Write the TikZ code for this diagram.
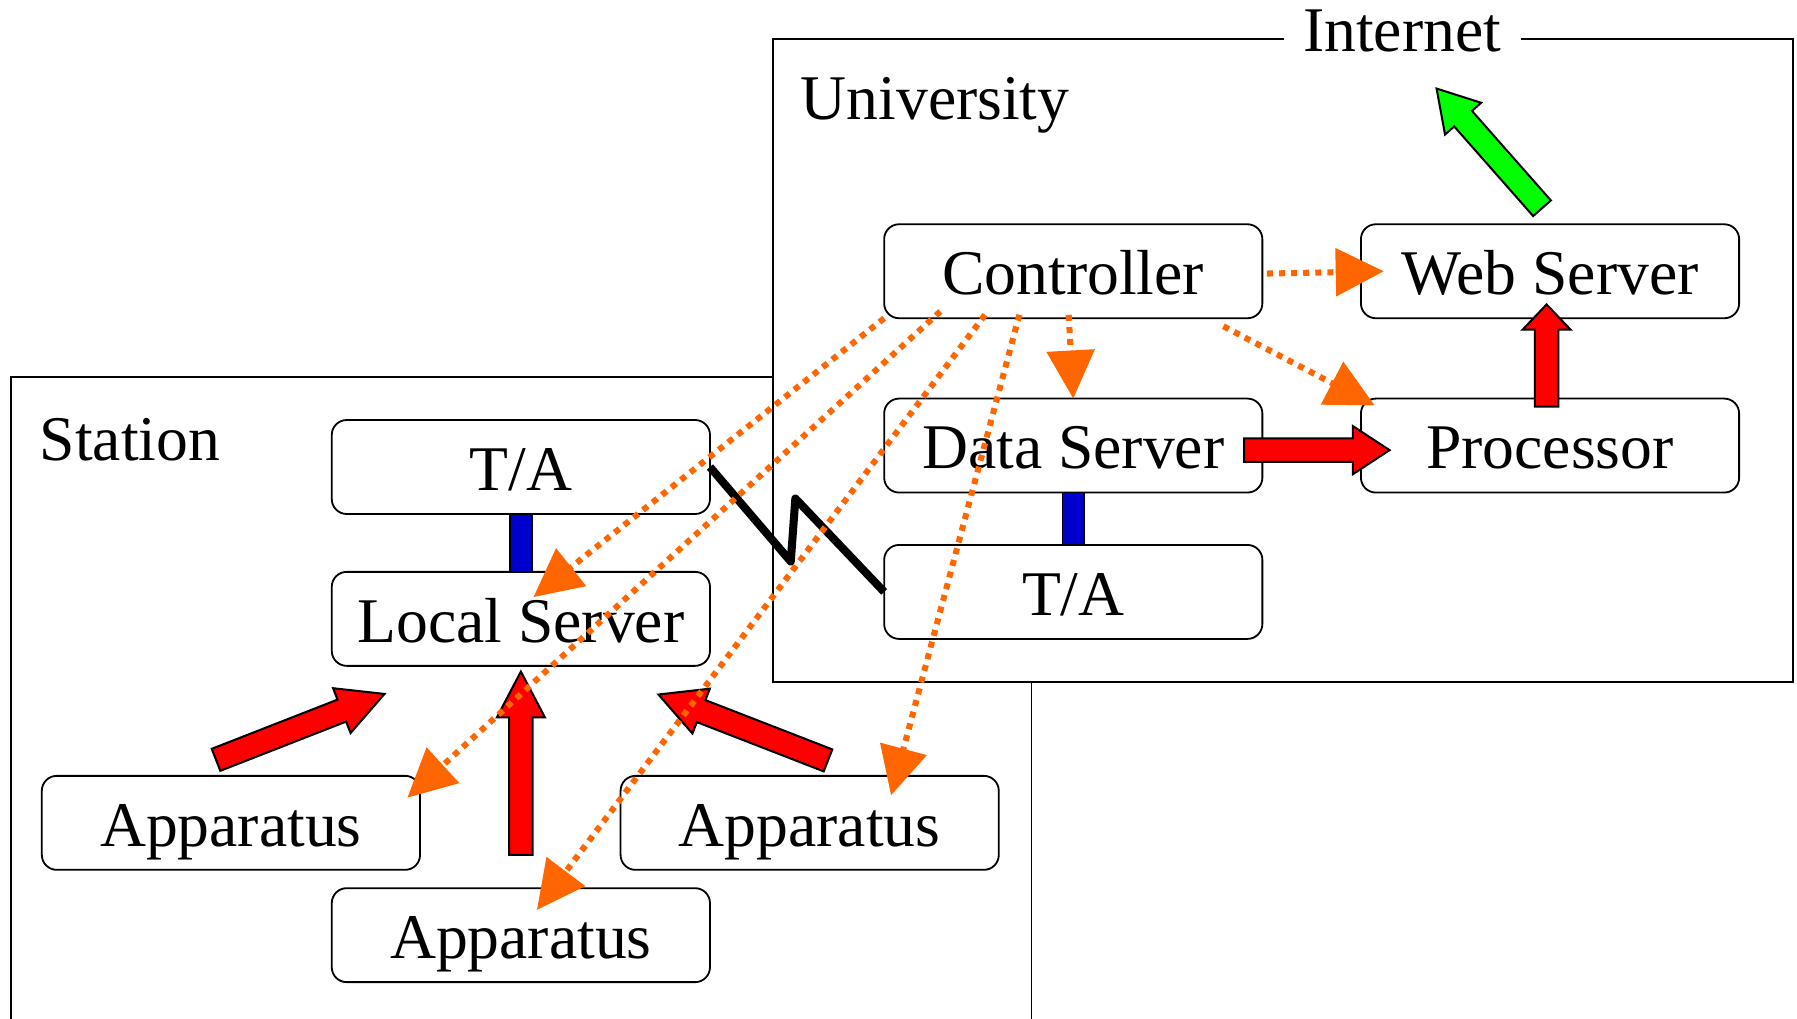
\documentclass[tikz,border=0pt]{standalone}
\usepackage{fontspec}
\setmainfont{Liberation Serif}
\usetikzlibrary{arrows.meta,calc}

\definecolor{ctlorange}{RGB}{255,102,0}
\definecolor{linkblue}{RGB}{0,0,204}
\definecolor{flowred}{RGB}{255,0,0}
\definecolor{netgreen}{RGB}{0,255,0}

% half widths of the shaft and of the head of a block arrow
\newcommand\fashaft{1.03mm}
\newcommand\fahead{2.1mm}
% block arrow: #1 fill colour, #2 head length, #3 start, #4 tip
\newcommand\fatarrow[4]{%
  \coordinate (fa-s) at #3;
  \coordinate (fa-e) at #4;
  \coordinate (fa-b) at ($(fa-e)!#2!(fa-s)$);
  \draw[fatline, fill=#1]
    ($(fa-s)!\fashaft!90:(fa-e)$) -- ($(fa-b)!\fashaft!90:(fa-e)$)
    -- ($(fa-b)!\fahead!90:(fa-e)$) -- (fa-e)
    -- ($(fa-b)!\fahead!-90:(fa-e)$) -- ($(fa-b)!\fashaft!-90:(fa-e)$)
    -- ($(fa-s)!\fashaft!-90:(fa-e)$) -- cycle;
}

\tikzset{
  txt/.style={font=\fontsize{15.8}{19}\selectfont},
  unit/.style={txt, draw=black, line width=0.45pt, fill=white,
    rounded corners=1.3mm, minimum width=33mm, minimum height=8.2mm,
    inner sep=0pt, outer sep=0pt, text height=11.5pt, text depth=0pt},
  frame/.style={draw=black, line width=0.45pt},
  fatline/.style={draw=black, line width=0.5pt, line join=miter},
  link/.style={draw=black, line width=0.4pt, fill=linkblue},
  radio/.style={draw=black, line width=2pt, line join=round},
  ctl/.style={draw=ctlorange, line width=1.5pt, dash pattern=on 1.5pt off 1.5pt,
    -{Triangle[length=4.2mm, width=4.1mm, fill=ctlorange]}},
}

\begin{document}
\begin{tikzpicture}[x=0.1mm, y=-0.1mm]
  \useasboundingbox (0,0) rectangle (1568,889);

  % site frames
  \draw[frame] (9.6,889) -- (9.6,329.3) -- (900,329.3) -- (900,889);
  \draw[frame, fill=white] (674.7,33.7) rectangle (1564.8,594.8);
  \node[txt, fill=white, inner xsep=1.7mm, inner ysep=0.5mm, anchor=base] (inet) at (1223.5,45) {Internet};
  \node[txt, anchor=base west, inner sep=0pt] (univ) at (698,104) {University};
  \node[txt, anchor=base west, inner sep=0pt] (stat) at (34,401.5) {Station};

  % university units
  \node[unit] (ctrl) at (936.5,236.7) {Controller};
  \node[unit] (web)  at (1352.5,236.7) {Web Server};
  \node[unit] (ds)   at (936.5,388.8) {Data Server};
  \node[unit] (proc) at (1352.5,388.8) {Processor};
  \node[unit] (tau)  at (936.5,516.5) {T/A};

  % station units
  \node[unit] (tas)  at (454.5,407.5) {T/A};
  \node[unit] (ls)   at (454.5,540) {Local Server};
  \node[unit] (app1) at (201.5,718) {Apparatus};
  \node[unit] (app2) at (706.5,718) {Apparatus};
  \node[unit] (app3) at (454.5,816) {Apparatus};

  % wired links
  \draw[link] ($(tas.south)+(-9.5,0)$) rectangle ($(ls.north)+(9.5,0)$);
  \draw[link] ($(ds.south)+(-9.5,0)$) rectangle ($(tau.north)+(9.5,0)$);

  % radio link between the two T/A units
  \draw[radio] (tas.east) -- (690,490) -- (694,435) -- (tau.west);

  % data flow
  \fatarrow{flowred}{3.2mm}{($(ds.east)+(-16,4)$)}{($(proc.west)+(25,4)$)}
  \fatarrow{flowred}{2.2mm}{($(proc.north)+(-3,7)$)}{($(web.south)+(-3,-12)$)}
  \fatarrow{flowred}{4mm}{($(app3.north)+(0,-29)$)}{($(ls.south)+(0,5)$)}
  \fatarrow{flowred}{4mm}{($(app1.north)+(-13,-14)$)}{($(ls.south west)+(46,24.5)$)}
  \fatarrow{flowred}{4mm}{($(app2.north)+(16,-13.5)$)}{($(ls.south east)+(-45,25)$)}
  \coordinate (out) at (1253.5,77.3);
  \fatarrow{netgreen}{3.5mm}{($(web.north)+(-7,-14)$)}{(out)}

  % control messages
  \draw[ctl] ($(ctrl.east)+(4,2)$) -- ($(web.west)+(20,0)$);
  \draw[ctl] ($(ctrl.south)+(-4,-3)$) -- (ds.north);
  \draw[ctl] ($(ctrl.south east)+(-34,7)$) -- ($(proc.north west)+(12,6)$);
  \draw[ctl] (ctrl.south west) -- ($(ls.north)+(11,22)$);
  \draw[ctl] ($(ctrl.south west)+(49,-6)$) -- ($(app1.north east)+(-11,19)$);
  \draw[ctl] ($(ctrl.south west)+(88,-3)$) -- ($(app3.north)+(14,19)$);
  \draw[ctl] ($(ctrl.south west)+(118,-3)$) -- ($(app2.north)+(71,17)$);
\end{tikzpicture}
\end{document}
